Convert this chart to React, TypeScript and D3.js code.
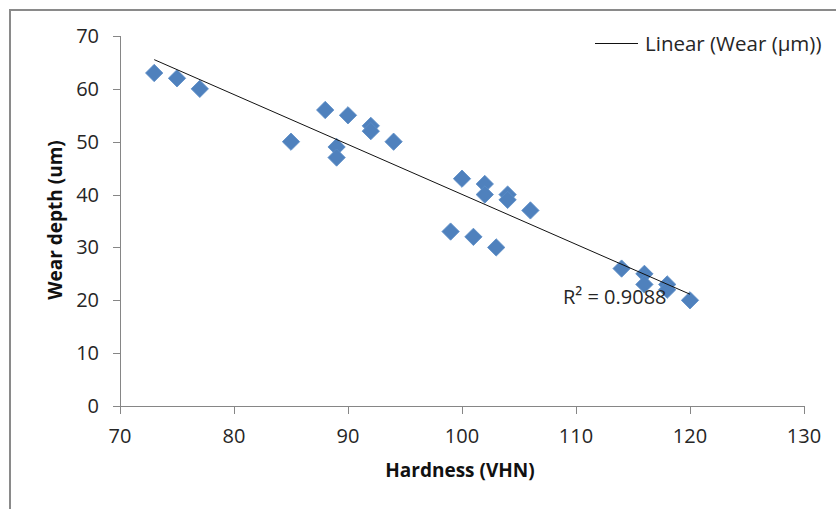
import React from "react";
import * as d3 from "d3";

// Hardness (VHN) vs wear depth (µm) measurements
const hardness = [73, 75, 77, 85, 88, 89, 89, 90, 92, 92, 94, 99, 100, 101, 102, 102, 103, 104, 104, 106, 114, 116, 116, 118, 118, 120];
const wearDepth = [63, 62, 60, 50, 56, 49, 47, 55, 53, 52, 50, 33, 43, 32, 42, 40, 30, 40, 39, 37, 26, 25, 23, 23, 22, 20];

const xTicks = [70, 80, 90, 100, 110, 120, 130];
const yTicks = [0, 10, 20, 30, 40, 50, 60, 70];

const rSquaredLabel = "R² = 0.9088";
const legendLabel = "Linear (Wear (µm))";
const xTitle = "Hardness (VHN)";
const yTitle = "Wear depth (um)";

const W = 836;
const H = 509;
const plot = { left: 120, right: 804, top: 36, bottom: 406 };

const FONT = "'Open Sans', 'Liberation Sans', sans-serif";
const AXIS_COLOR = "#868686";
const MARKER_COLOR = "#4f81bd";
const TEXT_COLOR = "#262626";

export default function App() {
  const x = d3.scaleLinear().domain([70, 130]).range([plot.left, plot.right]);
  const y = d3.scaleLinear().domain([0, 70]).range([plot.bottom, plot.top]);

  const points = hardness.map((h, i) => ({ h, w: wearDepth[i] }));

  // least-squares trend line over the data range
  const mx = d3.mean(hardness) as number;
  const my = d3.mean(wearDepth) as number;
  let sxy = 0;
  let sxx = 0;
  points.forEach((p) => {
    sxy += (p.h - mx) * (p.w - my);
    sxx += (p.h - mx) * (p.h - mx);
  });
  const slope = sxy / sxx;
  const intercept = my - slope * mx;
  const [xMin, xMax] = d3.extent(hardness) as [number, number];
  const trend = d3.line<number>()
    .x((v) => x(v))
    .y((v) => y(intercept + slope * v))([xMin, xMax]);

  const diamond = d3.symbol().type(d3.symbolSquare).size(150)();

  return (
    <svg
      width={W}
      height={H}
      style={{ position: "absolute", left: 0, top: 0, background: "#fff" }}
      fontFamily={FONT}
    >
      <rect x={0} y={0} width={W} height={H} fill="#fff" />
      {/* chart frame */}
      <path d={`M10,${H} L10,10 L${W},10`} fill="none" stroke="#8a8a8a" strokeWidth={2} />

      {/* y axis */}
      <line x1={plot.left + 0.5} x2={plot.left + 0.5} y1={plot.top} y2={plot.bottom} stroke={AXIS_COLOR} />
      {yTicks.map((t) => (
        <g key={`y${t}`}>
          <line x1={plot.left - 7} x2={plot.left} y1={Math.round(y(t)) + 0.5} y2={Math.round(y(t)) + 0.5} stroke={AXIS_COLOR} />
          <text x={99} y={y(t)} dy="0.35em" textAnchor="end" fontSize={20} fill={TEXT_COLOR}>
            {t}
          </text>
        </g>
      ))}

      {/* x axis */}
      <line x1={plot.left} x2={plot.right} y1={plot.bottom + 0.5} y2={plot.bottom + 0.5} stroke={AXIS_COLOR} />
      {xTicks.map((t) => (
        <g key={`x${t}`}>
          <line x1={Math.round(x(t)) + 0.5} x2={Math.round(x(t)) + 0.5} y1={plot.bottom} y2={plot.bottom + 8} stroke={AXIS_COLOR} />
          <text x={x(t)} y={443} textAnchor="middle" fontSize={20} fill={TEXT_COLOR}>
            {t}
          </text>
        </g>
      ))}

      {/* axis titles */}
      <text x={460} y={477} textAnchor="middle" fontSize={19} fontWeight="bold" fill="#111">
        {xTitle}
      </text>
      <text
        transform={`translate(62,220) rotate(-90)`}
        textAnchor="middle"
        fontSize={19}
        fontWeight="bold"
        fill="#111"
      >
        {yTitle}
      </text>

      {/* markers */}
      {points.map((p, i) => (
        <path
          key={i}
          d={diamond as string}
          transform={`translate(${x(p.h)},${y(p.w)}) rotate(45)`}
          fill={MARKER_COLOR}
          stroke="#5b8cc6"
          strokeWidth={0.8}
        />
      ))}

      {/* trend line */}
      <path d={trend as string} fill="none" stroke="#111" strokeWidth={1} />

      <text x={563} y={304} fontSize={20} fill={TEXT_COLOR}>
        {rSquaredLabel}
      </text>

      {/* legend */}
      <line x1={595} x2={638} y1={43.5} y2={43.5} stroke="#111" strokeWidth={1} />
      <text x={645} y={51} fontSize={20.5} fill={TEXT_COLOR}>
        {legendLabel}
      </text>
    </svg>
  );
}
